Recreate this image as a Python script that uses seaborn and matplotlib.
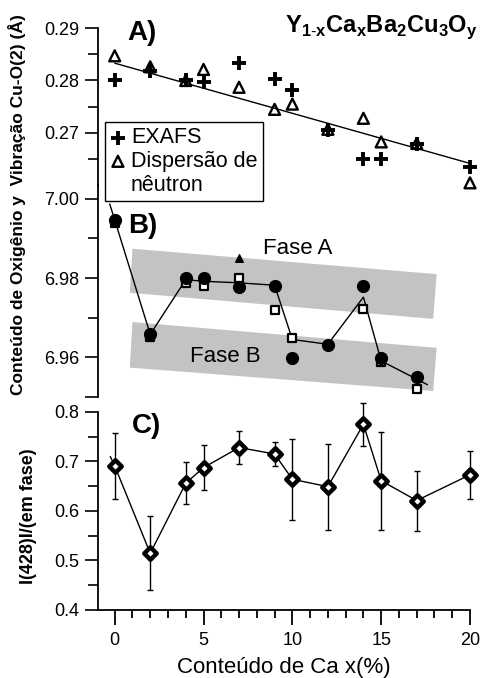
import numpy as np
import pandas as pd
import matplotlib
matplotlib.use("Agg")
import matplotlib.pyplot as plt
from matplotlib.ticker import FixedLocator, FormatStrFormatter
from matplotlib.patches import Polygon
from matplotlib.lines import Line2D
import seaborn as sns

# ---- Panel A: Cu-O(2) vibration amplitude ----
a_x = [0, 2, 4, 5, 7, 9, 10, 12, 14, 15, 17, 20]
a_exafs = [0.2801, 0.2819, 0.2801, 0.2798, 0.2833, 0.2803, 0.2782, 0.2705, 0.2650, 0.2650, 0.2679, 0.2636]
a_neutron = [0.2847, 0.2826, 0.2800, 0.2821, 0.2787, 0.2745, 0.2755, 0.2707, 0.2728, 0.2683, 0.2680, 0.2605]
a_fit_x = [0, 20]
a_fit_y = [0.2833, 0.2642]

# ---- Panel B: oxygen content ----
b_circ_x = [0, 2, 4, 5, 7, 9, 10, 12, 14, 15, 17]
b_circ_y = [6.9947, 6.9660, 6.9799, 6.9799, 6.9778, 6.9779, 6.9599, 6.9631, 6.9779, 6.9599, 6.9550]
b_sq_x = [0, 2, 4, 5, 7, 9, 10, 14, 15, 17]
b_sq_y = [6.9939, 6.9652, 6.9788, 6.9781, 6.9799, 6.9719, 6.9650, 6.9721, 6.9588, 6.9519]
b_tri_x = [7]
b_tri_y = [6.9851]
b_line_x = [-0.28, 0, 2, 4, 5, 7, 9, 10, 12, 14, 15, 17, 17.6]
b_line_y = [6.9987, 6.9947, 6.9658, 6.9796, 6.9792, 6.9788, 6.9782, 6.9645, 6.9633, 6.9752, 6.9591, 6.9545, 6.9531]
band_a_x = [1.0, 18.12, 17.93, 0.85]
band_a_y = [6.9874, 6.9810, 6.9697, 6.9763]
band_b_x = [1.0, 18.12, 17.93, 0.85]
band_b_y = [6.9689, 6.9624, 6.9515, 6.9574]

# ---- Panel C: intensity ratio ----
c_x = [0, 2, 4, 5, 7, 9, 10, 12, 14, 15, 17, 20]
c_y = [0.691, 0.5145, 0.656, 0.6875, 0.728, 0.715, 0.664, 0.649, 0.775, 0.661, 0.621, 0.673]
c_err = [0.0665, 0.075, 0.042, 0.045, 0.0325, 0.0245, 0.0815, 0.087, 0.043, 0.0985, 0.0605, 0.048]
c_line_x = [-0.25] + c_x
c_line_y = [0.710] + c_y

x_major = [0, 5, 10, 15, 20]
x_minor = [v for v in range(0, 21) if v % 5]

sns.set_theme(style="ticks")
plt.rcParams["font.family"] = ["Liberation Sans", "DejaVu Sans"]
plt.rcParams["mathtext.fontset"] = "custom"
plt.rcParams["mathtext.rm"] = "Liberation Sans"
plt.rcParams["mathtext.bf"] = "Liberation Sans:bold"
plt.rcParams["axes.linewidth"] = 1.3
for key in ("text.color", "axes.labelcolor", "xtick.color", "ytick.color", "axes.edgecolor"):
    plt.rcParams[key] = "black"

fig = plt.figure(figsize=(4.81, 6.78), dpi=100)
L, W = 98 / 481, (470 - 98) / 481
XLIM = (-0.94, 20)

axC = fig.add_axes([L, 0.1003, W, 0.3068])
axB = fig.add_axes([L, 0.4145, W, 0.3127])
axA = fig.add_axes([L, 0.7198, W, 0.2389])

for ax in (axA, axB, axC):
    ax.set_facecolor("none")
    ax.set_xlim(*XLIM)
    for s in ("top", "right"):
        ax.spines[s].set_visible(False)
    ax.tick_params(axis="y", which="major", direction="out", length=9.5, width=1.2,
                   labelsize=13, pad=4, colors="black")
    ax.tick_params(axis="y", which="minor", direction="out", length=7, width=1.2)
    ax.set_xlabel("")
    ax.set_ylabel("")

for ax in (axA, axB):
    ax.spines["bottom"].set_visible(False)
    ax.tick_params(axis="x", which="both", bottom=False, labelbottom=False)

# Panel A
axA.set_ylim(0.25914, 0.29)
axA.spines["left"].set_bounds(0.2601, 0.29)
axA.yaxis.set_major_locator(FixedLocator([0.27, 0.28, 0.29]))
axA.yaxis.set_minor_locator(FixedLocator([0.265, 0.275, 0.285]))
axA.yaxis.set_major_formatter(FormatStrFormatter("%.2f"))
sns.lineplot(x=a_fit_x, y=a_fit_y, ax=axA, color="black", lw=1.0, legend=False)
h_neu = axA.scatter(a_x, a_neutron, marker="^", s=62, facecolors="none", edgecolors="black",
                    linewidths=1.7, clip_on=False, zorder=3)
h_exa = axA.scatter(a_x, a_exafs, marker="+", s=100, color="black", linewidths=2.8,
                    clip_on=False, zorder=4)
h_blank = Line2D([], [], linestyle="none", marker="none")
leg = axA.legend([h_exa, h_neu, h_blank], ["EXAFS", "Dispersão de", "nêutron"],
                 loc="upper left", bbox_to_anchor=(105 / 481, 1 - 122 / 678),
                 bbox_transform=fig.transFigure, borderaxespad=0, fontsize=15.5,
                 frameon=True, fancybox=False, framealpha=1, edgecolor="black",
                 handlelength=0.7, handletextpad=0.25, borderpad=0.25, labelspacing=0.12)
leg.get_frame().set_linewidth(1.0)
leg.set_zorder(10)

# Panel B
axB.set_ylim(6.95, 7.0035)
axB.spines["left"].set_bounds(6.95, 7.0035)
axB.yaxis.set_major_locator(FixedLocator([6.95, 6.96, 6.98, 7.00]))
axB.yaxis.set_minor_locator(FixedLocator([6.97, 6.99]))
axB.set_yticklabels(["", "6.96", "6.98", "7.00"])
for bx, by in ((band_a_x, band_a_y), (band_b_x, band_b_y)):
    axB.add_patch(Polygon(np.column_stack([bx, by]), closed=True,
                          facecolor="#c3c3c3", edgecolor="none", zorder=1))
sns.lineplot(x=b_line_x, y=b_line_y, ax=axB, color="black", lw=1.0, sort=False,
             estimator=None, legend=False, zorder=2)
axB.scatter(b_sq_x, b_sq_y, marker="s", s=26, facecolors="white", edgecolors="black",
            linewidths=1.6, zorder=3, clip_on=False)
axB.scatter(b_circ_x, b_circ_y, marker="o", s=72, color="black", zorder=4, clip_on=False)
axB.scatter(b_tri_x, b_tri_y, marker="^", s=30, color="black", zorder=4)
axB.text(8.34, 6.9862, "Fase A", fontsize=16, ha="left", va="baseline")
axB.text(4.23, 6.9588, "Fase B", fontsize=16, ha="left", va="baseline")

# Panel C
axC.set_ylim(0.4, 0.82)
axC.spines["left"].set_bounds(0.4, 0.8)
axC.yaxis.set_major_locator(FixedLocator([0.4, 0.5, 0.6, 0.7, 0.8]))
axC.yaxis.set_minor_locator(FixedLocator([0.45, 0.55, 0.65, 0.75]))
axC.yaxis.set_major_formatter(FormatStrFormatter("%.1f"))
axC.xaxis.set_major_locator(FixedLocator(x_major))
axC.xaxis.set_minor_locator(FixedLocator(x_minor))
axC.tick_params(axis="x", which="major", direction="out", length=10.5, width=1.3,
                labelsize=13, pad=5, colors="black")
axC.tick_params(axis="x", which="minor", direction="out", length=5.5, width=1.3)
axC.errorbar(c_x, c_y, yerr=c_err, fmt="none", ecolor="black", elinewidth=1.0,
             capsize=2, capthick=1.0, clip_on=False, zorder=2)
sns.lineplot(x=c_line_x, y=c_line_y, ax=axC, color="black", lw=1.0, sort=False,
             estimator=None, legend=False, zorder=3)
axC.scatter(c_x, c_y, marker="D", s=40, facecolors="white", edgecolors="black",
            linewidths=3.2, zorder=4, clip_on=False)

# Panel tags and titles
fig.text(127 / 481, 1 - 40 / 678, "A)", fontsize=20, fontweight="bold", va="baseline")
fig.text(128 / 481, 1 - 233 / 678, "B)", fontsize=20, fontweight="bold", va="baseline")
fig.text(132 / 481, 1 - 433 / 678, "C)", fontsize=20, fontweight="bold", va="baseline")
fig.text(478 / 481, 1 - 32 / 678,
         r"Y$_{\mathbf{1\text{-}x}}$Ca$_{\mathbf{x}}$Ba$_{\mathbf{2}}$Cu$_{\mathbf{3}}$O$_{\mathbf{y}}$",
         fontsize=17, fontweight="bold", ha="right", va="baseline")
fig.text(17 / 481, 1 - 205 / 678, "Conteúdo de Oxigênio y  Vibração Cu-O(2) (Å)",
         rotation=90, fontsize=12.5, fontweight="bold", ha="center", va="center")
fig.text(29 / 481, 1 - 516 / 678, "I(428)I/(em fase)", rotation=90, fontsize=13,
         fontweight="bold", ha="center", va="center")
fig.text(284 / 481, 1 - 667 / 678, "Conteúdo de Ca x(%)", fontsize=16,
         ha="center", va="center")

fig.savefig("out.png", dpi=100)
